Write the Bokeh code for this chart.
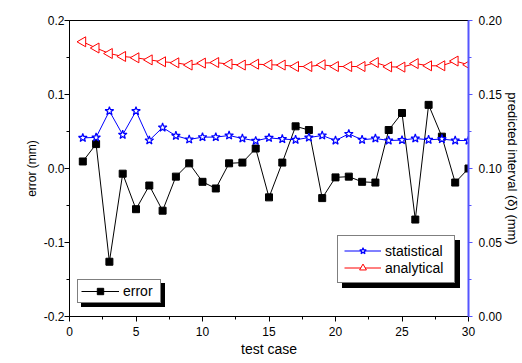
from bokeh.plotting import figure
from bokeh.models import (Range1d, LinearAxis, FixedTicker, NumeralTickFormatter,
                          Legend, LegendItem, Title)
from bokeh.embed import file_html
from bokeh.resources import INLINE
import math

# ---- data ----
test_case = list(range(1, 31))
error = [0.0095, 0.033, -0.126, -0.007, -0.055, -0.023, -0.057, -0.011, 0.007, -0.018,
         -0.027, 0.007, 0.008, 0.027, -0.039, 0.008, 0.057, 0.052, -0.040, -0.012,
         -0.011, -0.018, -0.019, 0.052, 0.075, -0.069, 0.086, 0.043, -0.019, 0.0]
statistical = [0.1207, 0.1210, 0.1388, 0.1228, 0.1388, 0.1190, 0.1277, 0.1221, 0.1196, 0.1212,
               0.1212, 0.1223, 0.1203, 0.1187, 0.1207, 0.1199, 0.1194, 0.1209, 0.1223, 0.1189,
               0.1234, 0.1194, 0.1203, 0.1189, 0.1192, 0.1203, 0.1194, 0.1199, 0.1189, 0.1189]
analytical = [0.1856, 0.1814, 0.1777, 0.1757, 0.1748, 0.1734, 0.1721, 0.1714, 0.1699, 0.1712,
              0.1716, 0.1705, 0.1699, 0.1705, 0.1701, 0.1699, 0.1689, 0.1689, 0.1701, 0.1689,
              0.1689, 0.1689, 0.1716, 0.1687, 0.1685, 0.1709, 0.1694, 0.1694, 0.1726, 0.1701]

x_ticks = [0, 5, 10, 15, 20, 25, 30]
x_minor = [2.5, 7.5, 12.5, 17.5, 22.5, 27.5]
left_ticks = [-0.2, -0.1, 0.0, 0.1, 0.2]
left_minor = [-0.15, -0.05, 0.05, 0.15]
right_ticks = [0.0, 0.05, 0.10, 0.15, 0.20]
right_minor = [0.025, 0.075, 0.125, 0.175]

FONT = "Liberation Sans"
BLUE_AX = "#5555ff"

p = figure(width=522, height=363, output_backend="svg", toolbar_location=None,
           x_range=Range1d(0, 30), y_range=Range1d(-0.2, 0.2),
           min_border_left=69, min_border_right=53, min_border_top=20, min_border_bottom=47)
p.extra_y_ranges = {"right": Range1d(0, 0.2)}
p.grid.visible = False
p.outline_line_color = "black"
p.outline_line_width = 1
p.background_fill_color = "white"
p.border_fill_color = "white"

def style_axis(ax, size="12px"):
    ax.major_label_text_font = FONT
    ax.major_label_text_font_size = size
    ax.major_label_text_color = "black"
    ax.axis_label_text_font = FONT
    ax.axis_label_text_font_style = "normal"
    ax.axis_label_text_color = "black"
    ax.major_tick_in = 0
    ax.major_tick_out = 5
    ax.minor_tick_in = 0
    ax.minor_tick_out = 3

xa = p.xaxis[0]
style_axis(xa)
xa.ticker = FixedTicker(ticks=x_ticks, minor_ticks=x_minor)
xa.major_label_standoff = 5

# x-axis title at the very bottom
p.add_layout(Title(text="test case", align="center", vertical_align="bottom",
                   standoff=0, text_font=FONT, text_font_size="14px",
                   text_font_style="normal", text_color="black"), "below")

ya = p.yaxis[0]
style_axis(ya)
ya.ticker = FixedTicker(ticks=left_ticks, minor_ticks=left_minor)
ya.formatter = NumeralTickFormatter(format="0.0")
ya.major_label_standoff = 0

# left axis title, with an empty spacer title outside it
p.add_layout(Title(text="error (mm)", align="center", vertical_align="bottom",
                   standoff=3, text_font=FONT, text_font_size="12px",
                   text_font_style="normal", text_color="black"), "left")
p.add_layout(Title(text=" ", align="center", vertical_align="bottom",
                   standoff=2, text_font=FONT, text_font_size="10px",
                   text_font_style="normal", text_color="white"), "left")

ra = LinearAxis(y_range_name="right")
style_axis(ra)
ra.ticker = FixedTicker(ticks=right_ticks, minor_ticks=right_minor)
ra.formatter = NumeralTickFormatter(format="0.00")
ra.axis_label = "predicted interval (δ) (mm)"
ra.axis_label_text_font_size = "13px"
ra.axis_line_color = BLUE_AX
ra.axis_line_width = 2
ra.major_tick_line_color = BLUE_AX
ra.minor_tick_line_color = BLUE_AX
ra.major_tick_out = 4
ra.major_label_standoff = 6
ra.axis_label_standoff = 0
p.add_layout(ra, "right")

# ---- series ----
r_err_l = p.line(test_case, error, line_color="black", line_width=1)
r_err_s = p.scatter(test_case, error, marker="square", size=7, fill_color="black",
                    line_color="black")

r_st_l = p.line(test_case, statistical, line_color="blue", line_width=1, y_range_name="right")
r_st_s = p.scatter(test_case, statistical, marker="star", size=9, fill_color="white",
                   line_color="blue", line_width=1.2, y_range_name="right")

r_an_l = p.line(test_case, analytical, line_color="red", line_width=1, y_range_name="right")
r_an_s = p.scatter(test_case, analytical, marker="triangle", size=10, angle=math.pi / 2,
                   fill_color="white", line_color="red", line_width=1, y_range_name="right")

def make_legend(items, loc, shadow=False, label_h=16, pad=3, gw=38, lw=40):
    return Legend(items=items, location=loc, orientation="vertical",
                  margin=0, padding=pad, spacing=0,
                  glyph_width=gw, glyph_height=label_h, label_height=label_h,
                  label_width=lw, label_standoff=4,
                  label_text_font=FONT, label_text_font_size="14px",
                  border_line_color="black", border_line_width=1,
                  background_fill_color="black" if shadow else "white",
                  background_fill_alpha=1.0,
                  label_text_color="black")

err_front = [LegendItem(label="error", renderers=[r_err_l, r_err_s])]
err_shadow = [LegendItem(label=" ", renderers=[r_err_l, r_err_s])]
st_front = [LegendItem(label="statistical", renderers=[r_st_l, r_st_s]),
            LegendItem(label="analytical", renderers=[r_an_l, r_an_s])]
st_shadow = [LegendItem(label=" ", renderers=[r_st_l, r_st_s]),
             LegendItem(label="  ", renderers=[r_an_l, r_an_s])]

p.add_layout(make_legend(err_shadow, (12, 9), shadow=True, label_h=16, pad=3, gw=38, lw=34))
p.add_layout(make_legend(err_front, (8, 13), label_h=16, pad=3, gw=38, lw=34))
p.add_layout(make_legend(st_shadow, (273, 28), shadow=True, label_h=17, pad=6, gw=37, lw=63))
p.add_layout(make_legend(st_front, (268, 33), label_h=17, pad=6, gw=37, lw=63))

open("out.html", "w").write(file_html(p, INLINE))
